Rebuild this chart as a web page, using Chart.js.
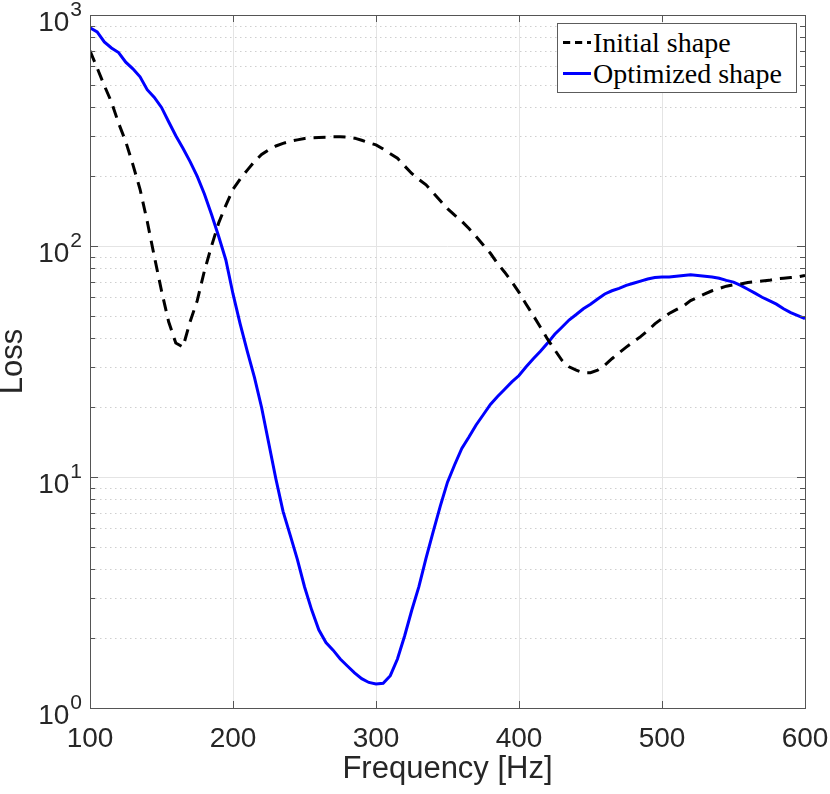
<!DOCTYPE html>
<html>
<head>
<meta charset="utf-8">
<script src="https://cdn.jsdelivr.net/npm/chart.js@4.4.1/dist/chart.umd.min.js"></script>
<style>
  html, body { margin: 0; padding: 0; background: #fff; }
  #wrap { position: relative; width: 830px; height: 794px; }
  #legend {
    position: absolute; left: 557px; top: 23px; width: 240px; height: 70px;
    box-sizing: border-box; border: 1px solid #5c5c5c; background: #fff;
    font-family: "Liberation Serif", "DejaVu Serif", serif; font-size: 28px; color: #000;
    padding-top: 3px;
  }
  #legend .row { display: flex; align-items: center; height: 31px; white-space: nowrap; }
  #legend svg { flex: none; }
</style>
</head>
<body>
<div id="wrap">
  <canvas id="lossChart" width="830" height="794"></canvas>
  <div id="legend"></div>
</div>
<script>
// frequency samples [Hz]
const freq = [
  100, 105, 110, 115, 120, 125, 130, 135, 140, 145,
  150, 155, 160, 165, 170, 175, 180, 185, 190, 195,
  200, 205, 210, 215, 220, 225, 230, 235, 240, 245,
  250, 255, 260, 265, 270, 275, 280, 285, 290, 295,
  300, 305, 310, 315, 320, 325, 330, 335, 340, 345,
  350, 355, 360, 365, 370, 375, 380, 385, 390, 395,
  400, 405, 410, 415, 420, 425, 430, 435, 440, 445,
  450, 455, 460, 465, 470, 475, 480, 485, 490, 495,
  500, 505, 510, 515, 520, 525, 530, 535, 540, 545,
  550, 555, 560, 565, 570, 575, 580, 585, 590, 595, 600
];

// initial shape loss
const lossInitial = [
  700, 590, 495, 420, 340, 283, 225, 176, 128, 90,
  64, 47, 38, 36.5, 47, 58, 78, 100, 126, 150,
  176, 195, 213, 232, 249, 261, 271, 278, 284, 288,
  292, 294, 295, 296, 297, 297, 296, 293, 287, 280,
  274, 263, 251, 240, 222, 206, 194, 184, 170, 157,
  145, 136, 128, 119, 110, 101, 93, 84, 77, 70,
  63, 56, 50, 44.5, 39.5, 35.5, 32, 30, 29, 28.3,
  28.3, 29, 30.5, 32.5, 34.5, 36.5, 38.5, 40.5, 43, 46,
  48.5, 51, 53, 55, 58, 60, 62, 64, 65.5, 67,
  68, 68.5, 69.5, 70, 70.5, 71, 72, 72.5, 73, 73.5, 74.5
];

// optimized shape loss
const lossOptimized = [
  880, 845, 765, 720, 688, 625, 585, 540, 475, 440,
  398, 345, 300, 265, 232, 200, 168, 137, 110, 87,
  62, 46, 35, 27, 20, 14, 9.8, 7.1, 5.6, 4.4,
  3.35, 2.66, 2.18, 1.92, 1.78, 1.63, 1.52, 1.42, 1.34, 1.29,
  1.27, 1.28, 1.38, 1.63, 2.05, 2.65, 3.35, 4.45, 5.8, 7.5,
  9.5, 11.3, 13.3, 14.9, 16.8, 18.6, 20.6, 22.3, 24, 25.8,
  27.5, 30, 32.5, 35, 38, 41.5, 44.5, 47.8, 50.5, 53.5,
  56, 59, 62, 64, 65.5, 67.5, 69, 70.5, 72, 73,
  73.4, 73.5, 74, 74.5, 75, 74.5, 74, 73.4, 72.5, 71,
  69.8, 67.5, 65, 62.5, 60, 58, 56, 53.5, 51.5, 50, 48.5
];

const xTicks = [100, 200, 300, 400, 500, 600];
const yMajorTicks = [1, 10, 100, 1000];

const axisColor = '#555555';
const textColor = '#262626';
const majorGrid = '#e4e4e4';
const minorGrid = '#cfcfcf';

// 1..9 in every decade for the minor grid / ticks
const yAllTicks = [];
for (let d = 0; d < yMajorTicks.length - 1; d++) {
  for (let k = 1; k < 10; k++) yAllTicks.push(yMajorTicks[d] * k);
}
yAllTicks.push(yMajorTicks[yMajorTicks.length - 1]);

const axesBox = {
  id: 'axesBox',
  beforeDatasetsDraw(chart) {
    const { ctx, chartArea: a, scales: { y } } = chart;
    ctx.save();
    ctx.strokeStyle = minorGrid;
    ctx.lineWidth = 1;
    ctx.setLineDash([1.5, 3.5]);
    y.ticks.forEach(t => {
      if (yMajorTicks.includes(t.value)) return;
      const py = Math.round(y.getPixelForValue(t.value)) + 0.5;
      ctx.beginPath();
      ctx.moveTo(a.left, py);
      ctx.lineTo(a.right, py);
      ctx.stroke();
    });
    ctx.restore();
  },
  afterDraw(chart) {
    const { ctx, chartArea: a, scales: { x, y } } = chart;
    ctx.save();
    ctx.strokeStyle = axisColor;
    ctx.lineWidth = 1;
    ctx.beginPath();
    x.ticks.forEach(t => {
      const px = Math.round(x.getPixelForValue(t.value)) + 0.5;
      ctx.moveTo(px, a.bottom); ctx.lineTo(px, a.bottom - 7);
      ctx.moveTo(px, a.top); ctx.lineTo(px, a.top + 7);
    });
    y.ticks.forEach(t => {
      const len = yMajorTicks.includes(t.value) ? 8 : 5;
      const py = Math.round(y.getPixelForValue(t.value)) + 0.5;
      ctx.moveTo(a.left, py); ctx.lineTo(a.left + len, py);
      ctx.moveTo(a.right, py); ctx.lineTo(a.right - len, py);
    });
    ctx.stroke();
    ctx.strokeRect(Math.round(a.left) + 0.5, Math.round(a.top) + 0.5,
      Math.round(a.right - a.left), Math.round(a.bottom - a.top));

    // y tick labels as 10^n
    ctx.fillStyle = textColor;
    ctx.textAlign = 'right';
    ctx.textBaseline = 'alphabetic';
    yMajorTicks.forEach(v => {
      const py = y.getPixelForValue(v);
      const exp = String(Math.round(Math.log10(v)));
      ctx.font = '21px "Liberation Sans", Arial, sans-serif';
      const sw = ctx.measureText(exp).width;
      ctx.fillText(exp, a.left - 8, py + 1);
      ctx.font = '28px "Liberation Sans", Arial, sans-serif';
      ctx.fillText('10', a.left - 9 - sw, py + 16);
    });
    ctx.restore();
  }
};

const chart = new Chart(document.getElementById('lossChart'), {
  type: 'line',
  data: {
    datasets: [
      {
        label: 'Initial shape',
        data: freq.map((f, i) => ({ x: f, y: lossInitial[i] })),
        borderColor: '#000000',
        borderWidth: 3,
        borderDash: [12, 8],
        pointRadius: 0,
        tension: 0,
        fill: false
      },
      {
        label: 'Optimized shape',
        data: freq.map((f, i) => ({ x: f, y: lossOptimized[i] })),
        borderColor: '#0000ff',
        borderWidth: 3,
        pointRadius: 0,
        tension: 0,
        fill: false
      }
    ]
  },
  options: {
    responsive: false,
    animation: false,
    devicePixelRatio: 1,
    layout: { padding: { left: 0, right: 25, top: 15, bottom: 0 } },
    plugins: {
      legend: { display: false },
      tooltip: { enabled: false }
    },
    scales: {
      x: {
        type: 'linear',
        min: 100,
        max: 600,
        afterBuildTicks: s => { s.ticks = xTicks.map(v => ({ value: v })); },
        afterFit: s => { s.height = 86; s.paddingLeft = 0; s.paddingRight = 0; },
        ticks: {
          color: textColor,
          padding: 14,
          maxRotation: 0,
          font: { family: '"Liberation Sans", Arial, sans-serif', size: 28 }
        },
        grid: { color: majorGrid, drawTicks: false },
        border: { display: false },
        title: {
          display: true,
          text: 'Frequency [Hz]',
          color: textColor,
          font: { family: '"Liberation Sans", Arial, sans-serif', size: 31 },
          padding: { top: 0, bottom: 6 }
        }
      },
      y: {
        type: 'logarithmic',
        min: 1,
        max: 1000,
        afterBuildTicks: s => { s.ticks = yAllTicks.map(v => ({ value: v })); },
        afterFit: s => { s.width = 90; s.paddingTop = 0; s.paddingBottom = 0; },
        ticks: { display: false },
        grid: {
          drawTicks: false,
          color: c => (c.tick && yMajorTicks.includes(c.tick.value)) ? majorGrid : 'rgba(0,0,0,0)'
        },
        border: { display: false },
        title: {
          display: true,
          text: 'Loss',
          color: textColor,
          font: { family: '"Liberation Sans", Arial, sans-serif', size: 31, lineHeight: 0.85 },
          padding: { top: 0, bottom: 0 }
        }
      }
    }
  },
  plugins: [axesBox]
});

// legend box drawn from the datasets
const legendEl = document.getElementById('legend');
chart.data.datasets.forEach(ds => {
  const row = document.createElement('div');
  row.className = 'row';
  const dash = ds.borderDash ? ds.borderDash.map(v => v * 0.6).join(' ') : 'none';
  row.innerHTML =
    '<svg width="35" height="31"><line x1="5" y1="15.5" x2="33" y2="15.5" stroke="' + ds.borderColor +
    '" stroke-width="' + ds.borderWidth + '" stroke-dasharray="' + dash + '"/></svg>' +
    '<span>' + ds.label + '</span>';
  legendEl.appendChild(row);
});
</script>
</body>
</html>
